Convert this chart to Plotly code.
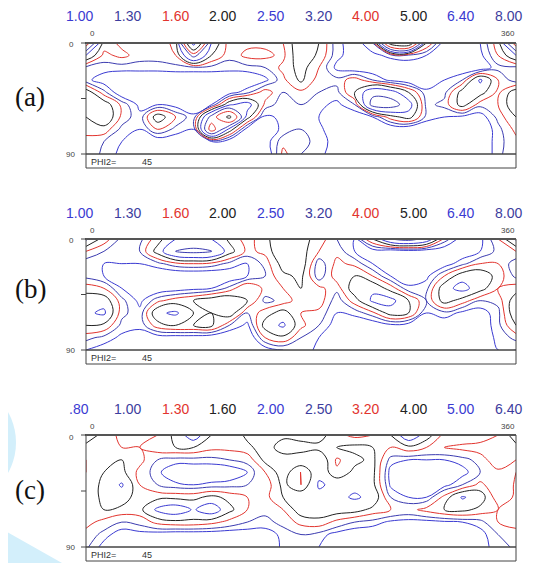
import numpy as np
import plotly.graph_objects as go

# ---------------- data ----------------
PHI1 = list(range(0, 361, 15))          # x grid, degrees
PHI = list(range(0, 91, 10))            # y grid, degrees

LEVELS_AB = [1.00, 1.30, 1.60, 2.00, 2.50, 3.20, 4.00, 5.00, 6.40, 8.00]
LABELS_AB = ["1.00", "1.30", "1.60", "2.00", "2.50", "3.20", "4.00", "5.00", "6.40", "8.00"]
LEVELS_C = [0.80, 1.00, 1.30, 1.60, 2.00, 2.50, 3.20, 4.00, 5.00, 6.40]
LABELS_C = [".80", "1.00", "1.30", "1.60", "2.00", "2.50", "3.20", "4.00", "5.00", "6.40"]

# each inner list: one phi1 column, values for PHI = 0..90
ODF_A = [
    [4.5, 2.5, 1.2, 1.1, 2.3, 2.4, 2.0, 1.7, 1.5, 1.6],
    [1.8, 1.5, 1.15, 0.8, 1.4, 2.3, 2.5, 1.8, 1.3, 1.2],
    [1.5, 1.7, 1.15, 0.6, 0.7, 1.5, 1.5, 1.2, 1.0, 0.9],
    [1.4, 1.45, 1.15, 0.6, 0.6, 0.9, 1.1, 1.0, 0.7, 0.6],
    [1.4, 1.45, 1.15, 0.6, 0.6, 1.0, 2.3, 1.6, 0.7, 0.6],
    [1.7, 1.6, 1.2, 0.6, 0.6, 0.85, 1.6, 1.2, 0.7, 0.6],
    [7.0, 3.5, 1.2, 0.6, 0.6, 0.7, 1.1, 1.0, 0.7, 0.6],
    [2.5, 2.0, 1.2, 0.6, 0.6, 1.0, 3.5, 4.5, 0.95, 0.6],
    [1.4, 1.4, 1.15, 0.6, 0.8, 2.4, 5.3, 2.3, 0.7, 0.6],
    [1.5, 1.7, 1.2, 0.6, 1.2, 2.8, 2.2, 0.8, 0.6, 0.6],
    [1.5, 1.7, 1.3, 0.9, 1.8, 1.5, 0.9, 0.7, 0.8, 0.6],
    [1.6, 1.5, 1.7, 1.5, 1.3, 1.1, 1.1, 1.1, 1.5, 1.7],
    [2.4, 2.4, 2.2, 2.1, 1.5, 1.3, 1.3, 1.3, 1.4, 1.3],
    [2.0, 1.9, 1.6, 1.4, 1.3, 1.1, 1.0, 1.1, 1.2, 1.1],
    [1.1, 1.1, 0.9, 1.4, 1.2, 0.9, 0.7, 0.7, 0.8, 0.8],
    [0.8, 0.8, 0.7, 1.8, 2.0, 1.3, 0.7, 0.6, 0.6, 0.6],
    [1.3, 0.9, 0.7, 1.3, 3.0, 3.5, 1.0, 0.6, 0.6, 0.6],
    [5.5, 1.1, 0.7, 0.9, 2.8, 3.6, 1.8, 0.6, 0.6, 0.6],
    [6.0, 1.2, 0.7, 0.7, 2.0, 2.8, 2.2, 0.6, 0.6, 0.6],
    [2.0, 1.0, 0.7, 0.7, 1.1, 1.2, 1.2, 0.6, 0.6, 0.6],
    [0.8, 0.8, 0.7, 1.0, 1.2, 1.4, 1.0, 0.6, 0.6, 0.6],
    [0.8, 0.8, 0.7, 1.3, 2.2, 2.2, 0.9, 0.6, 0.6, 0.6],
    [1.0, 0.9, 0.7, 2.6, 2.2, 1.4, 0.8, 0.6, 0.6, 0.6],
    [1.8, 1.6, 1.2, 1.6, 1.5, 1.6, 1.4, 1.2, 1.2, 1.2],
    [4.5, 2.5, 1.2, 1.1, 2.3, 2.4, 2.0, 1.7, 1.5, 1.6],
]

ODF_B = [
    [2.6, 1.6, 1.1, 1.2, 1.8, 2.3, 2.4, 2.0, 1.4, 1.0],
    [1.8, 1.3, 1.0, 1.0, 1.6, 2.3, 2.6, 1.9, 1.2, 0.8],
    [1.2, 1.2, 1.0, 0.7, 1.0, 1.4, 1.4, 1.2, 0.9, 0.7],
    [1.2, 1.3, 1.0, 0.6, 0.6, 0.9, 1.1, 1.1, 0.8, 0.6],
    [1.8, 2.2, 1.2, 0.6, 0.7, 1.5, 2.4, 1.8, 0.8, 0.6],
    [2.5, 3.2, 1.5, 0.6, 0.8, 1.8, 2.6, 2.0, 0.8, 0.6],
    [2.6, 3.4, 1.6, 0.6, 0.9, 2.0, 2.0, 2.0, 0.8, 0.6],
    [2.5, 3.3, 1.5, 0.6, 1.0, 2.3, 2.0, 2.1, 0.7, 0.6],
    [1.9, 2.2, 1.2, 0.7, 1.4, 2.4, 2.3, 1.3, 0.6, 0.6],
    [1.4, 1.5, 1.0, 1.0, 2.0, 2.0, 1.3, 0.9, 0.6, 0.6],
    [1.9, 1.7, 1.4, 1.3, 1.5, 1.2, 1.8, 2.2, 1.6, 0.8],
    [2.3, 2.5, 2.2, 1.9, 1.6, 1.4, 2.2, 2.6, 1.9, 1.0],
    [2.2, 2.2, 2.3, 2.1, 2.0, 1.8, 1.6, 1.7, 1.3, 1.2],
    [1.8, 1.6, 1.1, 1.1, 1.7, 1.8, 1.5, 1.3, 1.0, 0.9],
    [1.3, 1.5, 1.7, 1.8, 1.4, 1.1, 1.0, 0.8, 0.7, 0.6],
    [1.0, 1.0, 1.5, 2.0, 2.3, 1.8, 1.1, 0.7, 0.6, 0.6],
    [2.0, 0.8, 1.0, 1.6, 2.4, 2.6, 1.5, 0.7, 0.6, 0.6],
    [3.2, 0.7, 0.7, 1.0, 1.8, 2.7, 2.2, 0.9, 0.6, 0.6],
    [3.5, 0.8, 0.7, 0.7, 1.1, 2.0, 2.0, 0.8, 0.6, 0.6],
    [3.0, 0.7, 0.7, 0.9, 1.2, 1.3, 1.0, 0.7, 0.6, 0.6],
    [1.5, 0.7, 0.8, 1.6, 2.3, 2.2, 1.2, 0.7, 0.6, 0.6],
    [0.8, 0.7, 1.2, 2.3, 2.7, 1.8, 0.9, 0.6, 0.6, 0.6],
    [0.9, 1.0, 1.6, 2.4, 2.2, 1.3, 0.8, 0.7, 0.7, 0.7],
    [1.6, 1.4, 1.6, 1.8, 1.6, 1.4, 1.2, 1.2, 1.1, 1.0],
    [2.6, 1.6, 1.1, 1.2, 1.8, 2.3, 2.4, 2.0, 1.4, 1.0],
]

ODF_C = [
    [1.8, 1.5, 1.3, 1.3, 1.35, 1.35, 1.4, 1.4, 1.2, 1.05],
    [1.5, 1.4, 1.4, 1.6, 1.7, 1.7, 1.6, 1.2, 0.9, 0.7],
    [1.2, 1.3, 1.6, 1.7, 2.05, 1.8, 1.5, 1.0, 0.65, 0.6],
    [1.1, 1.3, 1.4, 1.2, 1.3, 1.4, 1.5, 1.1, 0.7, 0.6],
    [1.3, 1.5, 1.0, 0.85, 1.0, 1.5, 2.1, 1.4, 0.65, 0.6],
    [1.7, 1.6, 0.9, 0.6, 0.85, 1.5, 2.3, 1.5, 0.6, 0.6],
    [2.3, 1.6, 0.9, 0.6, 0.8, 1.5, 1.95, 1.5, 0.6, 0.6],
    [1.6, 1.4, 0.9, 0.6, 0.85, 1.7, 2.3, 1.4, 0.6, 0.6],
    [1.3, 1.4, 1.0, 0.6, 0.9, 1.5, 1.7, 1.2, 0.6, 0.6],
    [1.7, 1.5, 1.1, 0.8, 1.0, 1.3, 1.3, 1.0, 0.65, 0.6],
    [1.8, 1.8, 1.7, 1.3, 1.1, 1.2, 1.1, 0.9, 0.7, 0.6],
    [1.7, 1.4, 1.8, 1.8, 1.7, 1.6, 1.3, 1.1, 0.85, 0.85],
    [1.8, 1.4, 1.9, 1.25, 1.3, 1.9, 1.8, 1.4, 1.0, 0.95],
    [1.75, 1.5, 1.9, 1.9, 2.05, 1.9, 1.8, 1.5, 0.9, 0.8],
    [1.4, 1.6, 1.25, 1.35, 1.9, 1.9, 1.8, 1.2, 0.7, 0.6],
    [1.2, 1.7, 1.5, 1.7, 1.9, 2.05, 1.75, 1.0, 0.6, 0.6],
    [1.3, 1.6, 1.7, 1.7, 1.7, 1.9, 1.5, 0.9, 0.6, 0.6],
    [1.6, 1.3, 0.9, 0.7, 0.75, 1.0, 1.3, 0.75, 0.6, 0.6],
    [2.4, 1.5, 0.8, 0.6, 0.6, 0.8, 1.2, 0.7, 0.6, 0.6],
    [1.8, 1.3, 0.8, 0.6, 0.6, 0.8, 1.4, 0.7, 0.6, 0.6],
    [1.2, 1.3, 0.8, 0.6, 0.7, 1.4, 1.6, 0.75, 0.6, 0.6],
    [1.0, 1.4, 0.9, 0.7, 1.0, 2.05, 1.7, 0.8, 0.6, 0.6],
    [1.0, 1.5, 1.1, 1.0, 1.4, 1.8, 1.5, 0.9, 0.7, 0.7],
    [1.3, 1.4, 1.6, 1.2, 1.0, 1.1, 1.3, 1.3, 1.0, 0.9],
    [1.8, 1.5, 1.3, 1.3, 1.35, 1.35, 1.4, 1.4, 1.2, 1.05],
]

PANEL_TAGS = ["(a)", "(b)", "(c)"]
SECTION_LABEL = "PHI2="
SECTION_VALUE = "45"

# ---------------- styling / layout ----------------
PAGE_MARGIN = 8          # default body margin of the html page
W, H = 537 - PAGE_MARGIN, 563 - PAGE_MARGIN
BLUE1 = "#3a3ad2"
BLUE2 = "#3b3bb0"
RED = "#e2342e"
BLACK = "#222222"
LINE_COLORS = [BLUE1, BLUE2, RED, BLACK, BLUE1, BLUE2, RED, BLACK, BLUE1, BLUE2]
LABEL_COLORS = ["#3a3ad2", "#3d3d9e", "#e2342e", "#222222", "#3a3ad2",
                "#3d3d9e", "#e2342e", "#222222", "#3a3ad2", "#3d3d9e"]

def px(x):
    return (x - PAGE_MARGIN) / W

def py(y):
    return 1 - (y - PAGE_MARGIN) / H

BOX_X0, BOX_X1 = 86, 516
PANELS = [
    dict(z=ODF_A, levels=LEVELS_AB, labels=LABELS_AB, top=43, bot=154, strip=168, lab_y=16, tag_y=97),
    dict(z=ODF_B, levels=LEVELS_AB, labels=LABELS_AB, top=239, bot=350, strip=364, lab_y=213, tag_y=289),
    dict(z=ODF_C, levels=LEVELS_C, labels=LABELS_C, top=435, bot=547, strip=561, lab_y=409, tag_y=490),
]
LABEL_X = [79, 127, 175, 222, 270, 318, 365, 413, 460, 508]

fig = go.Figure()
shapes = []
annotations = []

# light-blue watermark shapes on the left
shapes.append(dict(type="circle", xref="paper", yref="paper",
                   x0=px(-110), x1=px(16), y0=py(505), y1=py(380),
                   fillcolor="#d3effb", line=dict(width=0), layer="below"))
shapes.append(dict(type="path", xref="paper", yref="paper",
                   path=f"M {px(0)},{py(528)} L {px(62)},{py(563)} L {px(0)},{py(563)} Z",
                   fillcolor="#d3effb", line=dict(width=0), layer="below"))

for i, p in enumerate(PANELS):
    ax = "" if i == 0 else str(i + 1)
    z = np.array(p["z"], dtype=float).T   # rows = PHI, cols = PHI1
    for lvl, col in zip(p["levels"], LINE_COLORS):
        fig.add_trace(go.Contour(
            x=PHI1, y=PHI, z=z, xaxis="x" + ax, yaxis="y" + ax,
            autocontour=False,
            contours=dict(start=lvl, end=lvl, size=1, coloring="none"),
            line=dict(color=col, width=1, smoothing=1.1),
            showscale=False, hoverinfo="skip"))
    fig.layout["xaxis" + ax] = dict(domain=[px(BOX_X0), px(BOX_X1)], range=[0, 360],
                                    showgrid=False, zeroline=False, showticklabels=False,
                                    ticks="", showline=False, anchor="y" + ax, fixedrange=True)
    fig.layout["yaxis" + ax] = dict(domain=[py(p["bot"]), py(p["top"])], range=[90, 0],
                                    showgrid=False, zeroline=False, showticklabels=False,
                                    ticks="", showline=False, anchor="x" + ax, fixedrange=True)
    # box and strip
    shapes.append(dict(type="rect", xref="paper", yref="paper",
                       x0=px(BOX_X0), x1=px(BOX_X1), y0=py(p["bot"]), y1=py(p["top"]),
                       line=dict(color="#444444", width=1)))
    shapes.append(dict(type="line", xref="paper", yref="paper",
                       x0=px(BOX_X0 - 1), x1=px(BOX_X1), y0=py(p["top"]), y1=py(p["top"]),
                       line=dict(color="#555555", width=2)))
    shapes.append(dict(type="rect", xref="paper", yref="paper",
                       x0=px(BOX_X0), x1=px(BOX_X1), y0=py(p["strip"]), y1=py(p["bot"]),
                       line=dict(color="#444444", width=1)))
    # left ticks
    for ty in (p["top"], (p["top"] + p["bot"]) / 2, p["bot"]):
        shapes.append(dict(type="line", xref="paper", yref="paper",
                           x0=px(BOX_X0 - 5), x1=px(BOX_X0), y0=py(ty), y1=py(ty),
                           line=dict(color="#444444", width=1)))
    # level labels
    for lx, txt, col in zip(LABEL_X, p["labels"], LABEL_COLORS):
        annotations.append(dict(x=px(lx), y=py(p["lab_y"]), xref="paper", yref="paper",
                                text=txt, showarrow=False, xanchor="center", yanchor="middle",
                                font=dict(family="Liberation Sans, Arial", size=14, color=col)))
    small = dict(family="Liberation Sans, Arial", size=8, color="#444444")
    annotations.append(dict(x=px(88), y=py(p["top"] - 9), xref="paper", yref="paper",
                            text="0", showarrow=False, xanchor="left", yanchor="middle", font=small))
    annotations.append(dict(x=px(517), y=py(p["top"] - 9), xref="paper", yref="paper",
                            text="360", showarrow=False, xanchor="right", yanchor="middle", font=small))
    annotations.append(dict(x=px(76), y=py(p["top"] + 2), xref="paper", yref="paper",
                            text="0", showarrow=False, xanchor="right", yanchor="middle", font=small))
    annotations.append(dict(x=px(77), y=py(p["bot"]), xref="paper", yref="paper",
                            text="90", showarrow=False, xanchor="right", yanchor="middle", font=small))
    annotations.append(dict(x=px(89), y=py((p["bot"] + p["strip"]) / 2 + 0.5), xref="paper", yref="paper",
                            text=SECTION_LABEL, showarrow=False, xanchor="left", yanchor="middle",
                            font=dict(family="Liberation Sans, Arial", size=9, color="#333333")))
    annotations.append(dict(x=px(140), y=py((p["bot"] + p["strip"]) / 2 + 0.5), xref="paper", yref="paper",
                            text=SECTION_VALUE, showarrow=False, xanchor="left", yanchor="middle",
                            font=dict(family="Liberation Sans, Arial", size=9, color="#333333")))
    annotations.append(dict(x=px(30), y=py(p["tag_y"]), xref="paper", yref="paper",
                            text=PANEL_TAGS[i], showarrow=False, xanchor="center", yanchor="middle",
                            font=dict(family="Liberation Serif, Times New Roman, serif", size=27, color="#111111")))

fig.update_layout(width=W, height=H, margin=dict(l=0, r=0, t=0, b=0),
                  paper_bgcolor="white", plot_bgcolor="white",
                  showlegend=False, shapes=shapes, annotations=annotations)

fig.write_html("out.html")
